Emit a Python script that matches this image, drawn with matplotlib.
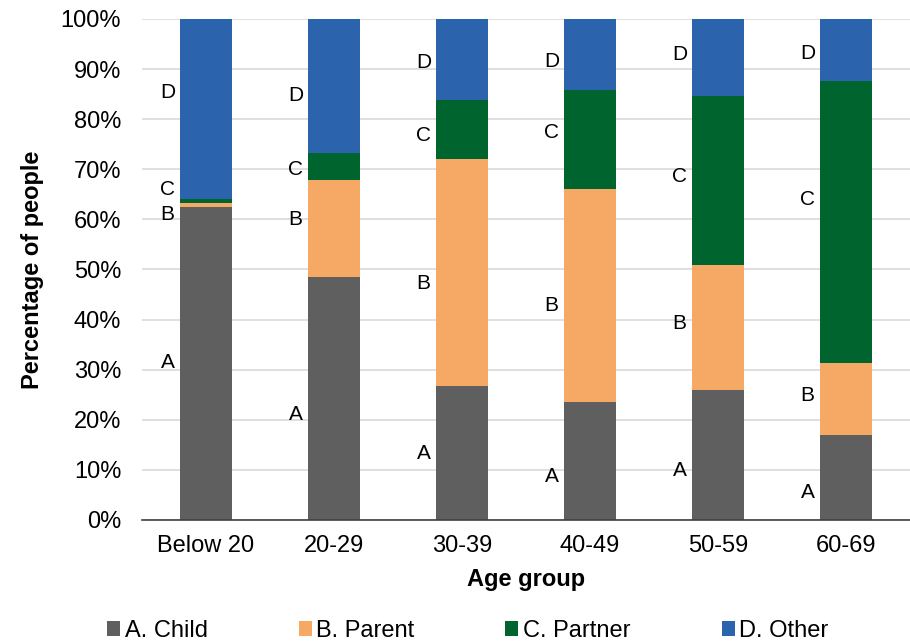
import numpy as np
import matplotlib.pyplot as plt

plt.rcParams['font.family'] = ['Liberation Sans', 'DejaVu Sans']

groups = ['Below 20', '20-29', '30-39', '40-49', '50-59', '60-69']
child = [62.5, 48.4, 26.7, 23.6, 25.9, 17.0]
parent = [0.8, 19.5, 45.4, 42.5, 25.0, 14.3]
partner = [0.7, 5.3, 11.7, 19.7, 33.7, 56.3]
other = [36.0, 26.8, 16.2, 14.2, 15.4, 12.4]

series = [('A. Child', 'A', child, '#5f5f5f'),
          ('B. Parent', 'B', parent, '#f6a865'),
          ('C. Partner', 'C', partner, '#00642f'),
          ('D. Other', 'D', other, '#2b64ad')]

# where the letter labels sit (percent)
label_y = {'A': [31.5, 21.0, 13.2, 8.6, 9.8, 5.4],
           'B': [61.0, 60.0, 47.3, 42.9, 39.3, 24.8],
           'C': [66.0, 70.0, 76.8, 77.4, 68.5, 63.9],
           'D': [85.4, 84.8, 91.4, 91.6, 93.0, 93.2]}

fig = plt.figure(figsize=(9.1, 6.43), dpi=100)
ax = fig.add_axes([0.156, 0.1913, 0.844, 0.7792])

x = np.arange(len(groups))
bottom = np.zeros(len(groups))
for name, letter, vals, col in series:
    ax.bar(x, vals, 0.41, bottom=bottom, color=col, label=name, zorder=3)
    bottom += np.array(vals)
    for xi, yi in zip(x, label_y[letter]):
        ax.text(xi - 0.30, yi, letter, ha='center', va='center', fontsize=15)

ax.set_xlim(-0.5, len(groups) - 0.5)
ax.set_ylim(0, 100)
ax.set_yticks(np.arange(0, 101, 10))
ax.set_yticklabels([f'{v}%' for v in range(0, 101, 10)], fontsize=17)
ax.set_xticks(x)
ax.set_xticklabels(groups, fontsize=17)
ax.tick_params(axis='y', length=0, pad=15)
ax.tick_params(axis='x', length=0, pad=11)
ax.grid(axis='y', color='#d9d9d9', lw=1.2, zorder=0)
for s in ['left', 'right', 'top']:
    ax.spines[s].set_visible(False)
ax.spines['bottom'].set_color('#404040')
ax.spines['bottom'].set_linewidth(1.2)
ax.spines['bottom'].set_zorder(4)

ax.set_ylabel('Percentage of people', fontsize=17, fontweight='bold', labelpad=12)
ax.set_xlabel('Age group', fontsize=17, fontweight='bold', labelpad=8)

fig.legend(loc='center', bbox_to_anchor=(0.514, 0.019), ncol=4, frameon=False,
           fontsize=17, handlelength=0.55, handleheight=0.55, handletextpad=0.2,
           columnspacing=3.85, borderpad=0)

fig.savefig('out.png', dpi=100)
